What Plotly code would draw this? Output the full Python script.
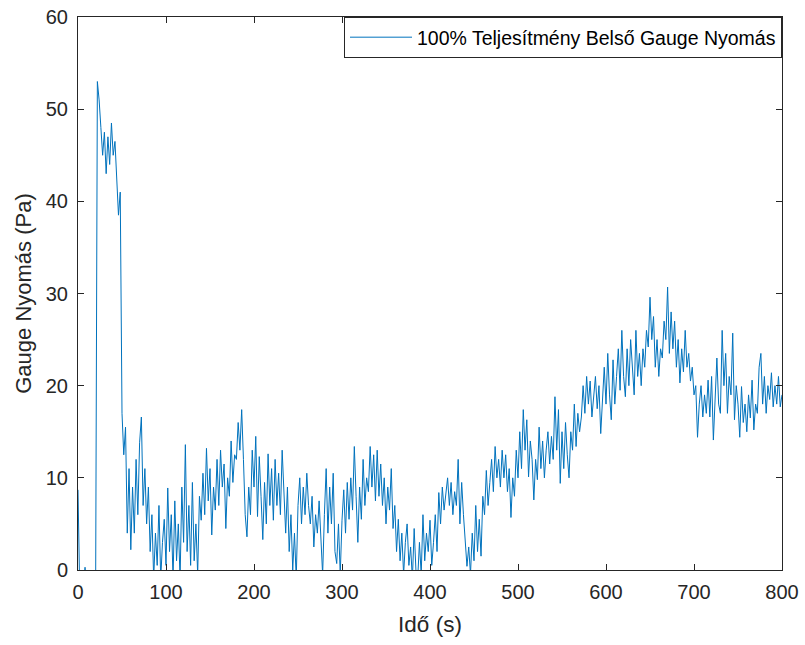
import plotly.graph_objects as go

# time step of 2 s, t = 0 .. 800
time_s = list(range(0, 802, 2))

pressure_pa = [
    8.7, -2.5, -3, -3, 0.3, -3, -3, -2.5, -3, -3,
    -3, 53, 51, 48, 45, 47.5, 43, 47, 44, 48.5,
    45, 46.5, 42, 38.5, 41, 17, 12.5, 15.5, 4, 11,
    2.2, 9, 4, 12, 6, 13.8, 16.6, 7, 11, 5,
    9, 2, 6, -1, 4, 0.5, 7, -1, 3, 5.5,
    0.5, 8.9, 2, 6, -1, 7.5, 1, 5, -1, 9,
    3, 13.6, 2, 7, 0.5, 9.5, 1, 5, -0.5, 8,
    5.4, 10.5, 6, 13.2, 7.5, 11, 3.8, 9, 6.5, 12,
    7, 13, 9, 11.5, 4.5, 10, 8, 14, 9.5, 12.5,
    12, 16, 13, 17.4, 12, 6, 3.6, 9, 6, 13,
    9, 14.5, 5.8, 12.3, 8, 3.3, 9.5, 5, 12.6, 7,
    11, 5.4, 12, 7, 10.5, 6, 13, 8, 4, 9,
    2, 6, 0, 4, -1, 7, 10, 5, 9, 6,
    10.5, 7, 5, 8, 2.5, 6, 4, 7.5, 3, -0.5,
    6, 11, 4, 9, 5, 10.5, 2, 0.7, 5, -0.5,
    5.4, 8.7, 4, 9.5, 5.5, 10, 6.5, 13.4, 8, 3.0,
    9, 5.5, 12, 7, 10, 8.5, 13.4, 9, 12.5, 7.5,
    13, 8, 11.5, 7, 10, 5, 9, 6.5, 11, 4.5,
    7, 2, 5.5, 1, 4, -0.5, 3, 5, 0.5, 2.5,
    -1, 4.5, 0, -1, 3, -0.5, 6, 1, 4, 2,
    5.4, 0.5, 3, 6, 2, 8.4, 5, 9, 6.5, 8,
    10, 7, 9.5, 6, 8.5, 7, 12, 5, 9.5, 6,
    3, 0.4, 2.5, -0.5, 4, 1, 7, 2, 5.5, 1.5,
    8, 6, 10.8, 7, 9.5, 12, 8.5, 13.4, 10, 12,
    9, 13, 10, 12.5, 8.5, 11, 5.7, 10, 8, 13,
    10, 15, 11, 17.4, 13, 16.3, 10.1, 14, 12, 7.6,
    12, 9.8, 15.5, 11, 14, 10, 13, 15, 11.5, 14.5,
    12, 18.8, 13, 17.4, 9.4, 15, 11, 16, 12.5, 10,
    15, 13, 18, 13.4, 17, 15, 16.6, 20, 17, 21,
    18, 20.5, 16.6, 19, 21, 17.5, 20, 14.8, 19, 22,
    18, 23.5, 19, 16.3, 22.8, 18, 21, 24, 19.5, 26,
    21, 18.8, 24, 20, 25, 22, 19, 26, 21, 23.5,
    20, 24, 22, 26, 24.2, 29.6, 25, 27.5, 22, 25,
    21, 24, 23, 27, 25, 30.7, 23.5, 28, 24, 27,
    22, 25, 20.3, 24, 21.5, 26, 22, 23.5, 20.5, 22,
    19, 20, 14.4, 18, 20, 16.6, 19, 17, 20.6, 16.6,
    21, 14.1, 19, 23, 18, 17, 26, 20, 23.5, 17,
    21, 19, 25.7, 16.3, 20, 18, 14.4, 19.9, 16, 18,
    15, 19, 16.5, 20.6, 15.2, 18, 17, 22, 23.5, 18,
    21, 17, 20, 18.5, 21.4, 17.7, 20, 18, 21, 17.7,
    19,
]

x_ticks = [0, 100, 200, 300, 400, 500, 600, 700, 800]
y_ticks = [0, 10, 20, 30, 40, 50, 60]

series_name = "100% Teljesítmény Belső Gauge Nyomás"

axis_col = "#262626"
font_fam = "Liberation Sans, Arial, sans-serif"

fig = go.Figure()
fig.add_trace(go.Scatter(
    x=time_s, y=pressure_pa, mode="lines", name=series_name,
    line=dict(color="#0072BD", width=1),
))

fig.update_layout(
    width=805, height=645,
    margin=dict(l=78, r=23, t=17, b=75, autoexpand=False),
    paper_bgcolor="white", plot_bgcolor="white",
    font=dict(family=font_fam, size=20, color=axis_col),
    showlegend=True,
    legend=dict(
        x=1, y=1, xanchor="right", yanchor="top",
        bordercolor=axis_col, borderwidth=1, bgcolor="white",
        font=dict(size=19.5, color="#000000"),
        tracegroupgap=0, itemwidth=62,
    ),
    xaxis=dict(
        range=[0, 800], tickvals=x_ticks, ticks="inside", ticklen=6,
        tickcolor=axis_col, showline=True, linecolor=axis_col, linewidth=1,
        mirror="ticks", showgrid=False, zeroline=False, automargin=False,
        title=dict(text="Idő (s)", font=dict(size=22.5), standoff=14),
        tickfont=dict(size=20), ticklabelstandoff=4, ticklabeloverflow="allow",
    ),
    yaxis=dict(
        range=[0, 60], tickvals=y_ticks, ticks="inside", ticklen=6,
        tickcolor=axis_col, showline=True, linecolor=axis_col, linewidth=1,
        mirror="ticks", showgrid=False, zeroline=False, automargin=False,
        title=dict(text="Gauge Nyomás (Pa)", font=dict(size=22), standoff=8),
        tickfont=dict(size=20), ticklabelstandoff=5, ticklabeloverflow="allow",
    ),
)

fig.write_html(
    "out.html",
    config={"displayModeBar": False},
    post_script="document.body.style.margin='0';document.body.style.overflow='hidden';",
)
